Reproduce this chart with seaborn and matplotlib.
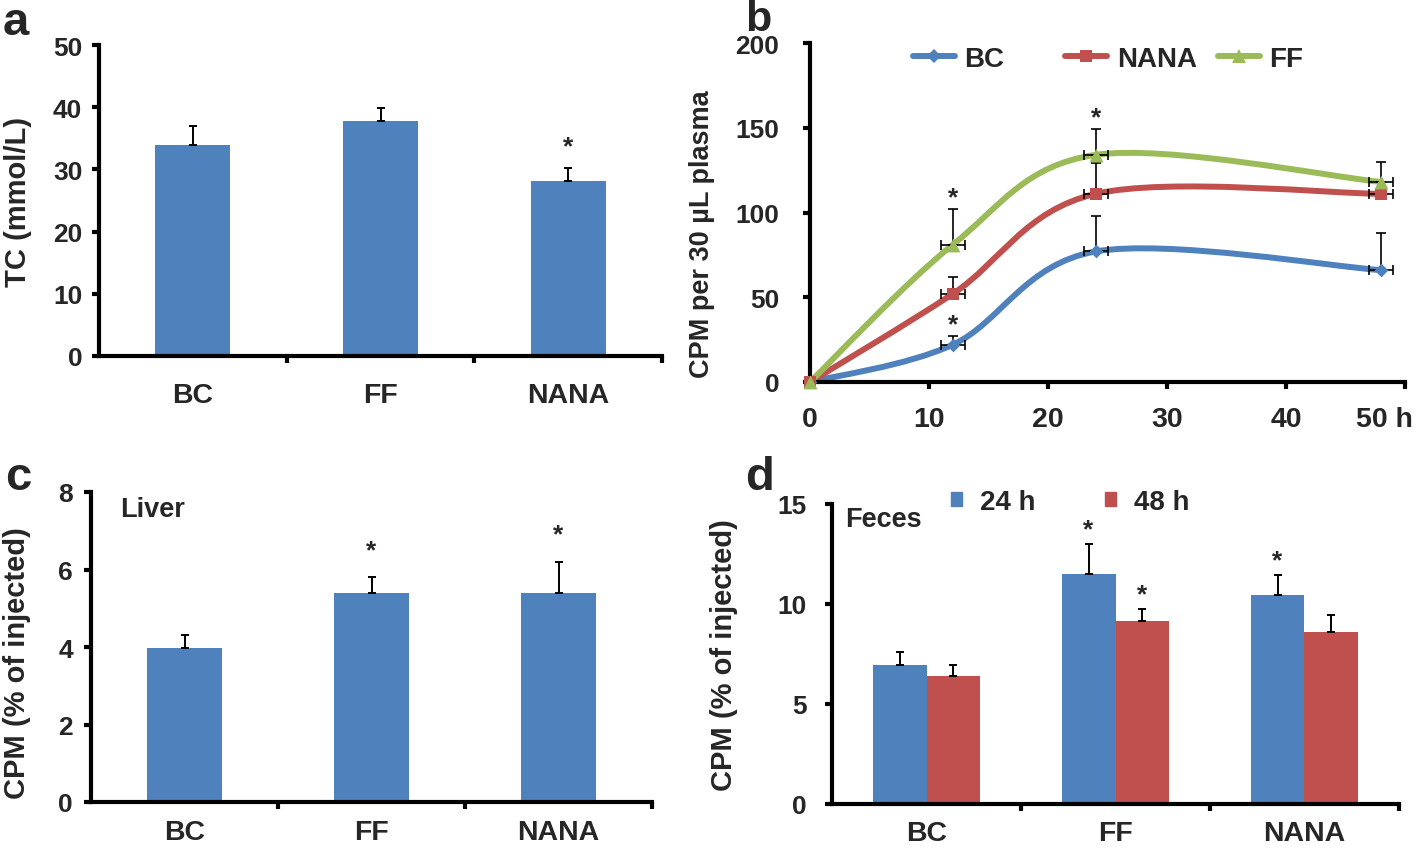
import numpy as np
import pandas as pd
import matplotlib
matplotlib.use("Agg")
import matplotlib.pyplot as plt
import matplotlib.transforms as mtransforms
from matplotlib.path import Path
from matplotlib.patches import PathPatch, Patch
from matplotlib.lines import Line2D
import seaborn as sns

# ---- data ----
groups = ["BC", "FF", "NANA"]

# a: total cholesterol (mmol/L)
tc_mean = [33.9, 37.8, 28.2]
tc_err = [3.0, 2.1, 2.0]
tc_star = [False, False, True]

# b: plasma CPM time course
hours = [0, 12, 24, 48]
hour_err = [0, 1, 1, 1]
bc_cpm = [0, 22, 77, 66]
bc_cpm_err = [0, 5, 21, 22]
bc_star = [False, True, False, False]
nana_cpm = [0, 52, 111, 111]
nana_cpm_err = [0, 10, 18, 3]
nana_star = [False, False, False, False]
ff_cpm = [0, 81, 134, 118]
ff_cpm_err = [0, 21, 15, 12]
ff_star = [False, True, True, False]

# c: liver CPM (% of injected)
liver_mean = [3.97, 5.4, 5.4]
liver_err = [0.35, 0.4, 0.8]
liver_star = [False, True, True]

# d: feces CPM (% of injected)
times = ["24 h", "48 h"]
feces_24 = [6.96, 11.5, 10.46]
feces_24_err = [0.66, 1.5, 1.0]
feces_24_star = [False, True, True]
feces_48 = [6.39, 9.15, 8.59]
feces_48_err = [0.57, 0.62, 0.85]
feces_48_star = [False, True, False]

BLUE = "#4F81BD"
RED = "#C0504D"
GREEN = "#9BBB59"

sns.set_theme(style="ticks")
plt.rcParams["font.family"] = ["Liberation Sans", "DejaVu Sans"]
plt.rcParams["font.weight"] = "bold"
plt.rcParams["axes.labelweight"] = "bold"

W, H = 1418, 853
fig = plt.figure(figsize=(W / 100, H / 100), dpi=100)


def px_axes(left, top, right, bottom):
    return fig.add_axes([left / W, 1 - bottom / H, (right - left) / W, (bottom - top) / H])


def style(ax, ypad, xpad, labelx, labely, ylabel, labelsize=21):
    sns.despine(ax=ax)
    for sp in ["left", "bottom"]:
        ax.spines[sp].set_linewidth(3)
        ax.spines[sp].set_color("black")
    ax.tick_params(axis="y", direction="out", length=5, width=3, labelsize=19, pad=ypad, color="black")
    ax.tick_params(axis="x", which="both", direction="out", width=3, labelsize=20.5, pad=xpad, color="black")
    ax.set_ylabel(ylabel, fontsize=labelsize, fontweight="bold")
    ax.yaxis.set_label_coords(labelx, labely)
    ax.set_xlabel("")
    ax.set_facecolor("white")


def cat_ticks(ax):
    ax.set_xlim(-0.5, len(groups) - 0.5)
    ax.set_xticks(range(len(groups)))
    ax.set_xticklabels(groups)
    ax.set_xticks([0.5, 1.5, 2.5], minor=True)
    ax.tick_params(axis="x", which="major", length=0)
    ax.tick_params(axis="x", which="minor", length=5, width=3)


def bar_err(ax, bars, err, stars, star_pad):
    xs = [b.get_x() + b.get_width() / 2 for b in bars]
    ys = [b.get_height() for b in bars]
    ax.errorbar(xs, ys, yerr=[np.zeros(len(err)), err], fmt="none", ecolor="black",
                elinewidth=1.4, capsize=3, capthick=1.4, zorder=3)
    for x, y, e, s in zip(xs, ys, err, stars):
        if s:
            ax.annotate("*", (x, y + e), xytext=(0, star_pad), textcoords="offset points",
                        ha="center", va="bottom", fontsize=19, fontweight="bold")


def smooth_path(x, y):
    # Excel-style smoothed line: Catmull-Rom segments drawn as cubic Beziers
    pts = np.column_stack([x, y]).astype(float)
    n = len(pts)
    verts = [pts[0]]
    codes = [Path.MOVETO]
    for i in range(n - 1):
        p0 = pts[max(i - 1, 0)]
        p1 = pts[i]
        p2 = pts[i + 1]
        p3 = pts[min(i + 2, n - 1)]
        verts += [p1 + (p2 - p0) / 6, p2 - (p3 - p1) / 6, p2]
        codes += [Path.CURVE4] * 3
    return Path(verts, codes)


# ---------------- a ----------------
ax_a = px_axes(99, 46, 662, 357)
sns.barplot(x=groups, y=tc_mean, color=BLUE, saturation=1, width=0.4, linewidth=0, ax=ax_a)
bar_err(ax_a, ax_a.patches, tc_err, tc_star, 7)
ax_a.set_ylim(0, 50)
ax_a.set_yticks([0, 10, 20, 30, 40, 50])
cat_ticks(ax_a)
style(ax_a, 7, 19, -0.119, 0.5, "TC (mmol/L)")

# ---------------- b ----------------
ax_b = px_axes(810, 44, 1405, 383)
series = [
    ("BC", bc_cpm, bc_cpm_err, bc_star, BLUE, "D", 7),
    ("NANA", nana_cpm, nana_cpm_err, nana_star, RED, "s", 8.5),
    ("FF", ff_cpm, ff_cpm_err, ff_star, GREEN, "^", 10),
]
df_b = pd.DataFrame({"h": hours * 3,
                     "cpm": bc_cpm + nana_cpm + ff_cpm,
                     "grp": ["BC"] * 4 + ["NANA"] * 4 + ["FF"] * 4})
handles = []
for name, vals, err, stars, col, mk, ms in series:
    ax_b.add_patch(PathPatch(smooth_path(hours, vals), facecolor="none", edgecolor=col,
                             lw=4.3, capstyle="round", joinstyle="round", zorder=2, clip_on=False))
    ax_b.errorbar(hours, vals, yerr=[np.zeros(len(err)), err], xerr=hour_err, fmt="none",
                  ecolor="black", elinewidth=1.2, capsize=3.5, capthick=1.2, zorder=3)
    sub = df_b[df_b["grp"] == name]
    sns.scatterplot(data=sub, x="h", y="cpm", color=col, marker=mk, s=ms ** 2,
                    edgecolor=col, linewidth=0, zorder=4, clip_on=False, legend=False, ax=ax_b)
    for x, y, e, s in zip(hours, vals, err, stars):
        if s:
            ax_b.annotate("*", (x, y + e), xytext=(0, 0), textcoords="offset points",
                          ha="center", va="bottom", fontsize=19, fontweight="bold")
    handles.append(Line2D([], [], color=col, lw=4.3, marker=mk, markersize=ms,
                          markeredgewidth=0, solid_capstyle="round"))

leg_x = [0.173, 0.429, 0.686]
for i, (name, *_rest) in enumerate(series):
    leg = ax_b.legend([handles[i]], [name], loc="center left", bbox_to_anchor=(leg_x[i], 0.953),
                      frameon=False, fontsize=20, handlelength=1.5, handletextpad=0.35,
                      borderpad=0, borderaxespad=0, numpoints=1)
    if i < len(series) - 1:
        ax_b.add_artist(leg)

ax_b.set_xlim(0, 50)
ax_b.set_ylim(0, 200)
ax_b.set_yticks([0, 50, 100, 150, 200])
ax_b.set_xticks([0, 10, 20, 30, 40, 50])
ax_b.set_xticklabels(["0", "10", "20", "30", "40", "50 h"])
style(ax_b, 17, 12, -0.16, 0.44, "CPM per 30 µL plasma", labelsize=19.5)
ax_b.tick_params(axis="x", length=5)
last = ax_b.get_xticklabels()[-1]
last.set_ha("right")
last.set_transform(last.get_transform() + mtransforms.ScaledTranslation(8 / 100, 0, fig.dpi_scale_trans))

# ---------------- c ----------------
ax_c = px_axes(91, 493, 652, 803)
sns.barplot(x=groups, y=liver_mean, color=BLUE, saturation=1, width=0.4, linewidth=0, ax=ax_c)
bar_err(ax_c, ax_c.patches, liver_err, liver_star, 11)
ax_c.set_ylim(0, 8)
ax_c.set_yticks([0, 2, 4, 6, 8])
cat_ticks(ax_c)
style(ax_c, 8, 12, -0.107, 0.45, "CPM (% of injected)")
ax_c.text(0.052, 0.945, "Liver", transform=ax_c.transAxes, ha="left", va="center",
          fontsize=19.5, fontweight="bold")

# ---------------- d ----------------
ax_d = px_axes(832, 505, 1399, 805)
df_d = pd.DataFrame({"grp": groups * 2,
                     "val": feces_24 + feces_48,
                     "time": [times[0]] * 3 + [times[1]] * 3})
sns.barplot(data=df_d, x="grp", y="val", hue="time", palette=[BLUE, RED], saturation=1,
            width=0.57, gap=0, linewidth=0, legend=False, ax=ax_d)
bar_err(ax_d, ax_d.containers[0], feces_24_err, feces_24_star, 2)
bar_err(ax_d, ax_d.containers[1], feces_48_err, feces_48_star, 2)
ax_d.set_ylim(0, 15)
ax_d.set_yticks([0, 5, 10, 15])
cat_ticks(ax_d)
style(ax_d, 13, 11.5, -0.166, 0.5, "CPM (% of injected)")
ax_d.text(0.023, 0.95, "Feces", transform=ax_d.transAxes, ha="left", va="center",
          fontsize=19.5, fontweight="bold")
ax_d.legend([Patch(color=BLUE), Patch(color=RED)], times, loc="center left",
            bbox_to_anchor=(0.21, 1.007), ncol=2, frameon=False, fontsize=20,
            handlelength=0.4, handleheight=0.4, handletextpad=0.65, columnspacing=2.5,
            borderpad=0, borderaxespad=0)

# panel letters
fig.text(3 / W, 1 - 35 / H, "a", fontsize=34, fontweight="bold", ha="left", va="baseline")
fig.text(745 / W, 1.0, "b", fontsize=31, fontweight="bold", ha="left", va="top")
fig.text(5 / W, 1 - 490 / H, "c", fontsize=34, fontweight="bold", ha="left", va="baseline")
fig.text(745 / W, 1 - 490 / H, "d", fontsize=34, fontweight="bold", ha="left", va="baseline")

fig.savefig("out.png", dpi=100, facecolor="white")
